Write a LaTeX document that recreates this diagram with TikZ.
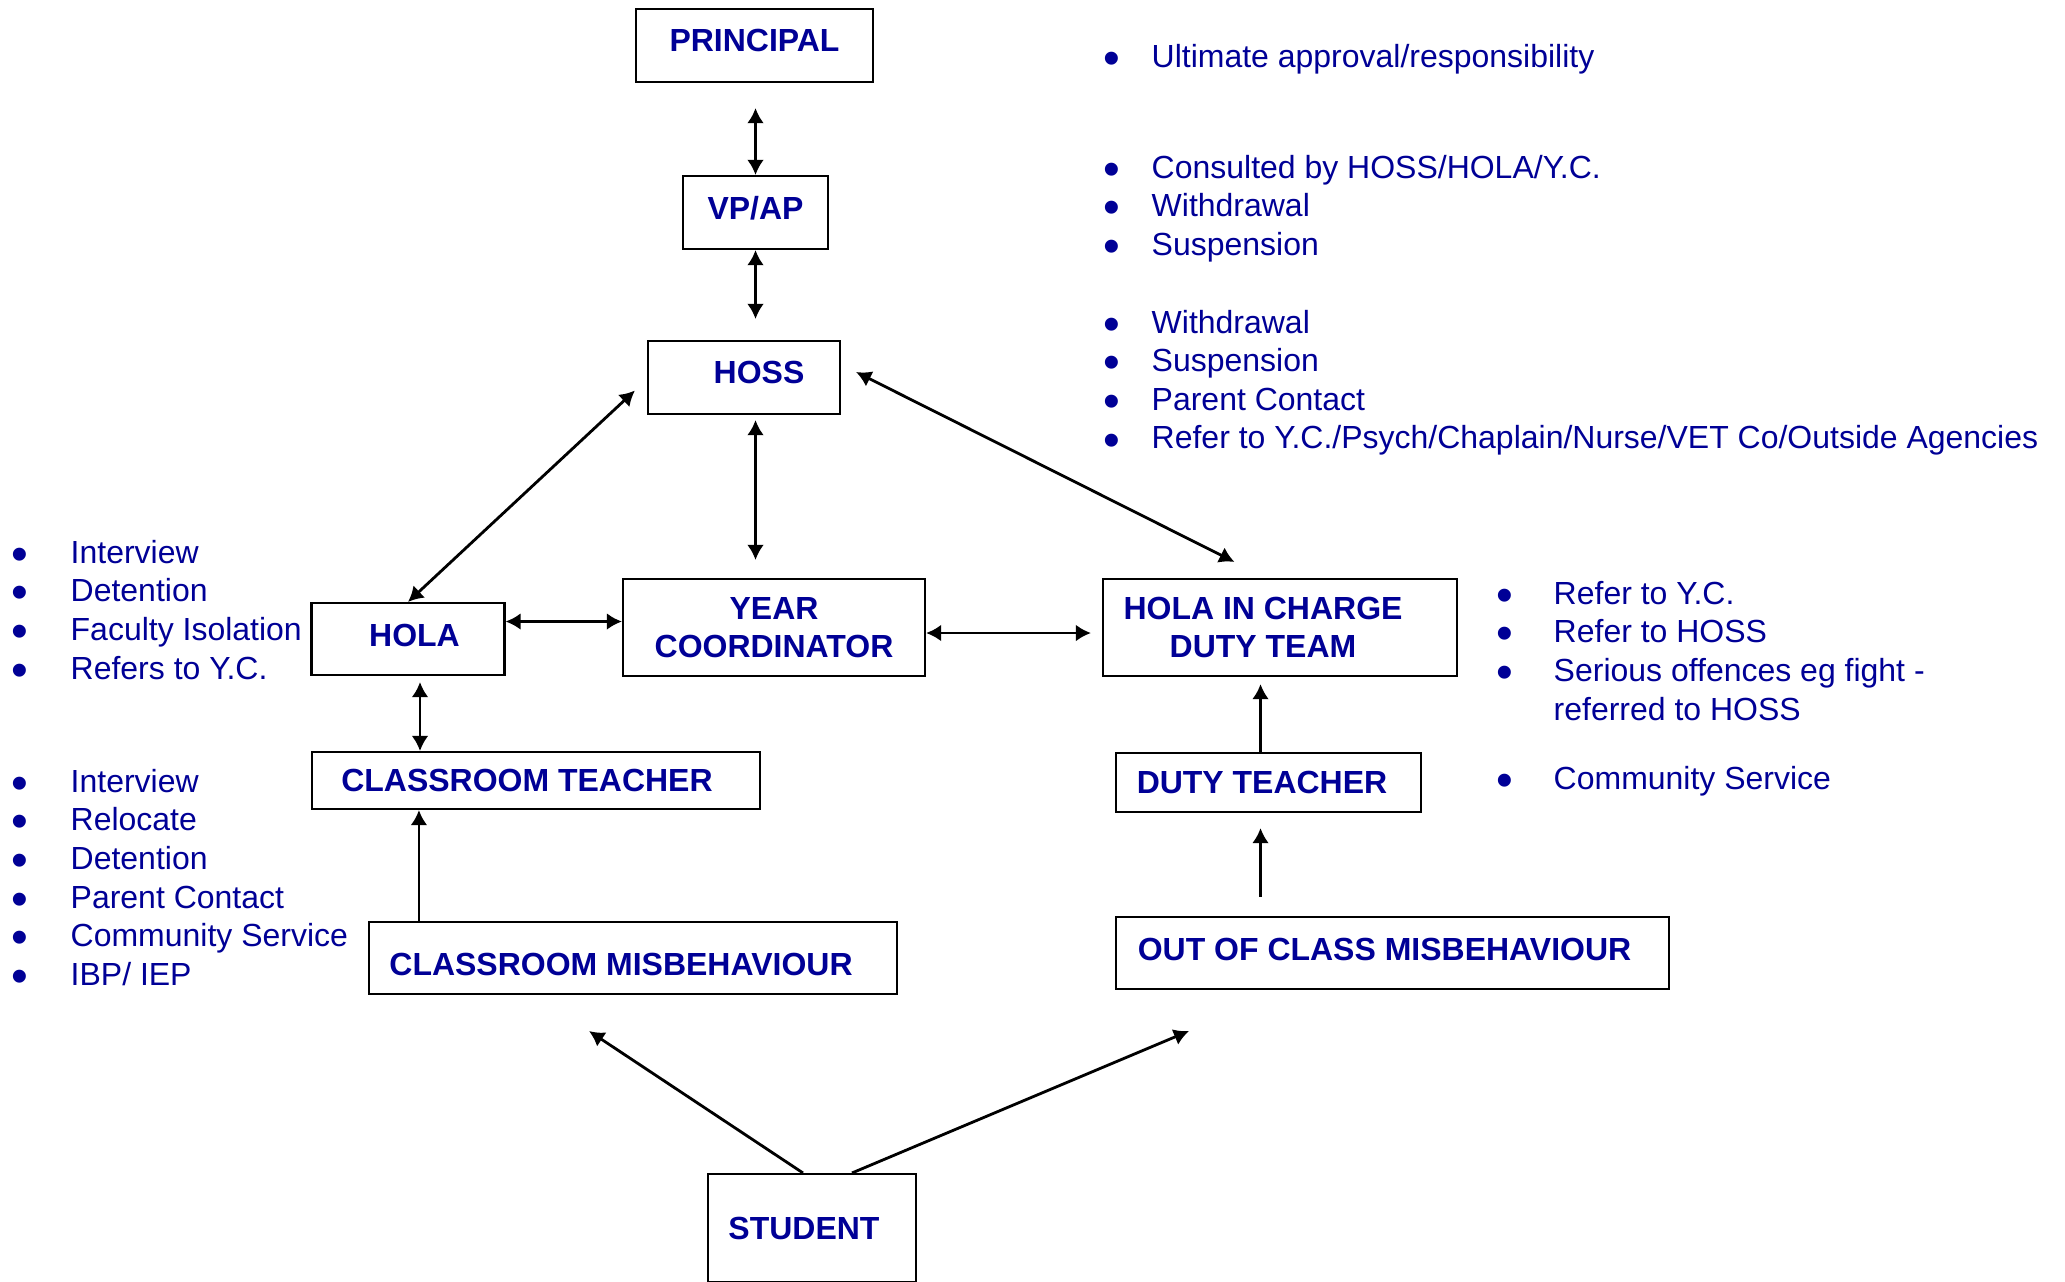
\documentclass[tikz,border=0pt]{standalone}
\usepackage{fontspec}
\setmainfont{Liberation Sans}
\usepackage{xcolor}
\usepackage{tikz}
\usetikzlibrary{arrows.meta}

\definecolor{navytext}{RGB}{0,0,150}
\newcommand{\itm}{\raisebox{-2pt}{\fontsize{13.6}{14}\selectfont\textbullet}}

\begin{document}
\begin{tikzpicture}[
        box/.style={draw, line width=0.6pt, inner sep=0pt, align=center,
                    text=navytext, font=\fontsize{9.1}{11}\selectfont\bfseries},
        notes/.style={anchor=base west, inner sep=0pt, text=navytext,
                      font=\fontsize{9.1}{11}\selectfont},
        twoway/.style={line width=0.8pt,
                       {Latex[length=4.3pt,width=4.8pt]}-{Latex[length=4.3pt,width=4.8pt]}},
        oneway/.style={line width=0.8pt, -{Latex[length=4.3pt,width=4.8pt]}}
    ]
        \useasboundingbox (0,0) rectangle (20.65,-12.81);

        % boxes, top to bottom
        \node[box, minimum width=2.37cm, minimum height=0.73cm, text depth=0.1cm] (principal) at ( 7.545, -0.455) {PRINCIPAL};
        \node[box, minimum width=1.45cm, minimum height=0.73cm, text depth=0.1cm] (vpap)      at ( 7.555, -2.125) {VP/AP};
        \node[box, minimum width=1.92cm, minimum height=0.73cm, text depth=0.1cm] (hoss)      at ( 7.44,  -3.775) {\hspace{0.3cm}HOSS};

        \node[box, minimum width=1.93cm, minimum height=0.72cm, text depth=0.08cm] (hola)     at ( 4.08,  -6.39)  {\hspace{0.13cm}HOLA};
        \node[box, minimum width=3.02cm, minimum height=0.97cm] (yc)        at ( 7.74,  -6.275) {YEAR\\COORDINATOR};
        \node[box, minimum width=3.54cm, minimum height=0.97cm] (holaic)    at (12.80,  -6.275) {HOLA IN CHARGE\hspace*{0.34cm}\\DUTY TEAM\hspace*{0.34cm}};

        \node[box, minimum width=4.48cm, minimum height=0.57cm] (ct)        at ( 5.36,  -7.805) {CLASSROOM TEACHER\hspace{0.18cm}};
        \node[box, minimum width=3.05cm, minimum height=0.59cm] (dt)        at (12.685, -7.825) {DUTY TEACHER\hspace{0.13cm}};

        \node[box, minimum width=5.28cm, minimum height=0.72cm, text height=9.9pt] (cm)   at ( 6.33,  -9.58)  {CLASSROOM MISBEHAVIOUR\hspace{0.24cm}};
        \node[box, minimum width=5.53cm, minimum height=0.72cm, text depth=0.08cm] (ooc)  at (13.925, -9.53)  {OUT OF CLASS MISBEHAVIOUR\hspace{0.16cm}};

        \node[box, minimum width=2.08cm, minimum height=1.08cm] (student)   at ( 8.12, -12.28)  {STUDENT\hspace{0.16cm}};

        % free ends of the student arrows
        \coordinate (cmtip)  at ( 5.89, -10.31);
        \coordinate (ooctip) at (11.89, -10.31);

        % centre line
        \draw[twoway, shorten <=0.25cm] (vpap.north |- principal.south) -- (vpap.north);
        \draw[twoway, shorten >=0.21cm] (vpap.south) -- (vpap.south |- hoss.north);
        \draw[twoway, shorten <=0.05cm, shorten >=0.18cm] (vpap.south |- hoss.south) -- (vpap.south |- yc.north);

        % diagonals from HOSS
        \draw[twoway] ([shift={(-0.12,-0.13)}]hoss.west) -- (hola.north);
        \draw[twoway] ([shift={(0.15,0.055)}]hoss.east) -- ([shift={(-0.455,0.16)}]holaic.north);

        % middle row
        \draw[twoway] ([yshift=0.175cm]hola.east) -- ([yshift=0.175cm]hola.east -| yc.west);
        \draw[twoway, shorten >=0.11cm] ([yshift=-0.055cm]yc.east) -- ([yshift=-0.055cm]yc.east -| holaic.west);

        % left side
        \draw[twoway, shorten <=0.06cm] ([xshift=0.12cm]hola.south) -- ([xshift=0.12cm]hola.south |- ct.north);
        \draw[oneway] ([xshift=0.51cm]cm.north west) -- ([xshift=0.51cm]cm.north west |- ct.south);

        % right side
        \draw[oneway, shorten >=0.07cm] ([xshift=-0.08cm]dt.north) -- ([xshift=-0.08cm]dt.north |- holaic.south);
        \draw[oneway, shorten <=0.19cm, shorten >=0.15cm] ([xshift=-0.08cm]dt.south |- ooc.north) -- ([xshift=-0.08cm]dt.south);

        % student
        \draw[oneway] ([xshift=-0.09cm]student.north) -- (cmtip);
        \draw[oneway] ([xshift=0.40cm]student.north)  -- (ooctip);

        % notes on the right
        \node[notes] (principalnotes) at (11.03, -0.67) {\begin{tabular}[t]{@{}p{0.48cm}@{}l@{}}
            \itm & Ultimate approval/responsibility
        \end{tabular}};
        \node[notes] (vpapnotes) at (11.03, -1.78) {\begin{tabular}[t]{@{}p{0.48cm}@{}l@{}}
            \itm & Consulted by HOSS/HOLA/Y.C.\\
            \itm & Withdrawal\\
            \itm & Suspension
        \end{tabular}};
        \node[notes] (hossnotes) at (11.03, -3.33) {\begin{tabular}[t]{@{}p{0.48cm}@{}l@{}}
            \itm & Withdrawal\\
            \itm & Suspension\\
            \itm & Parent Contact\\
            \itm & Refer to Y.C./Psych/Chaplain/Nurse/VET Co/Outside Agencies
        \end{tabular}};
        \node[notes] (holaicnotes) at (14.96, -6.04) {\begin{tabular}[t]{@{}p{0.57cm}@{}l@{}}
            \itm & Refer to Y.C.\\
            \itm & Refer to HOSS\\
            \itm & Serious offences eg fight -\\
                 & referred to HOSS
        \end{tabular}};
        \node[notes] (dtnotes) at (14.96, -7.89) {\begin{tabular}[t]{@{}p{0.57cm}@{}l@{}}
            \itm & Community Service
        \end{tabular}};

        % notes on the left
        \node[notes] (holanotes) at (0.11, -5.63) {\begin{tabular}[t]{@{}p{0.59cm}@{}l@{}}
            \itm & Interview\\
            \itm & Detention\\
            \itm & Faculty Isolation\\
            \itm & Refers to Y.C.
        \end{tabular}};
        \node[notes] (ctnotes) at (0.11, -7.92) {\begin{tabular}[t]{@{}p{0.59cm}@{}l@{}}
            \itm & Interview\\
            \itm & Relocate\\
            \itm & Detention\\
            \itm & Parent Contact\\
            \itm & Community Service\\
            \itm & IBP/ IEP
        \end{tabular}};
    \end{tikzpicture}
\end{document}
